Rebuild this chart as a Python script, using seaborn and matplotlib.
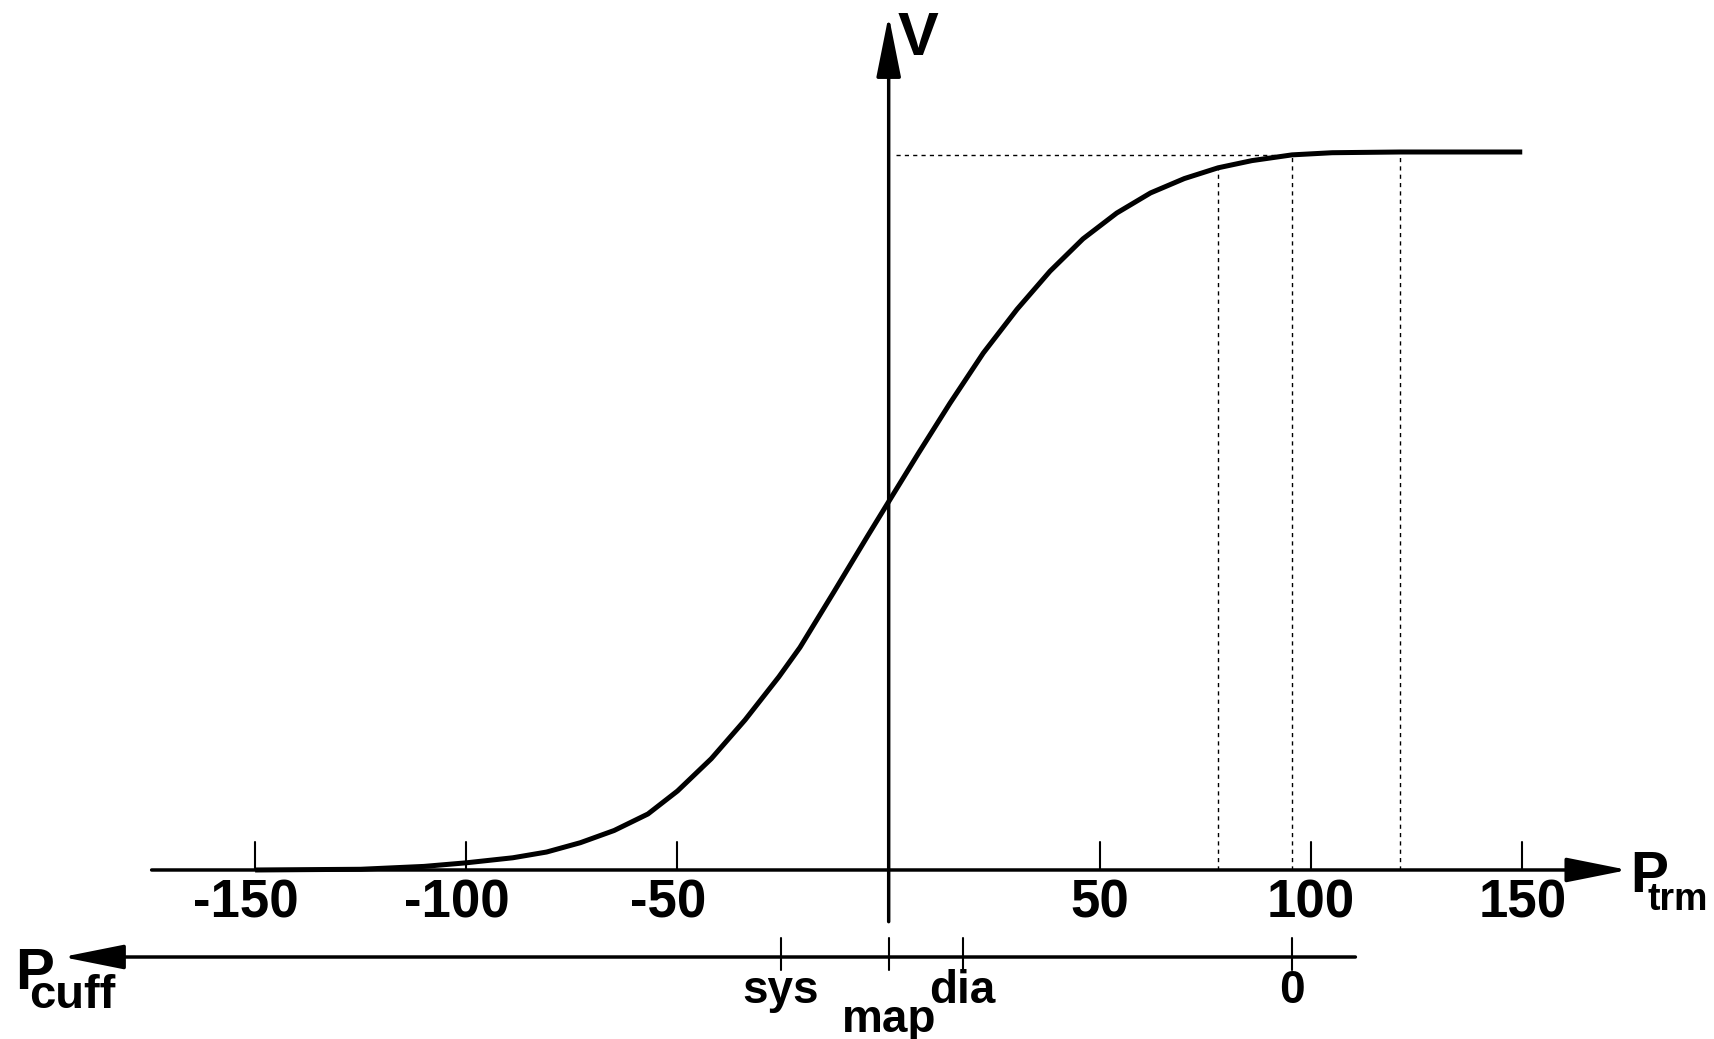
import numpy as np
import pandas as pd
import matplotlib
matplotlib.use("Agg")
import matplotlib.pyplot as plt
import seaborn as sns

# transmural pressure (P_trm) vs normalised volume
p_trm = [-150, -125, -110, -100, -89, -81, -73, -65, -57, -50, -42, -34, -26, -21,
         -13, -5, 0, 7, 14.5, 22.4, 30.4, 38.2, 46, 54, 62, 70, 78, 86, 95.5, 105,
         121, 135, 150]
volume = [0.0, 0.001, 0.005, 0.01, 0.017, 0.025, 0.038, 0.055, 0.078, 0.110, 0.155,
          0.209, 0.269, 0.310, 0.387, 0.465, 0.513, 0.580, 0.650, 0.720, 0.781, 0.834,
          0.879, 0.915, 0.943, 0.963, 0.978, 0.988, 0.996, 0.999, 1.0, 1.0, 1.0]

trm_ticks = [-150, -100, -50, 50, 100, 150]
trm_labels = ["-150", "-100", "-50", "50", "100", "150"]

# cuff pressure marks (P_cuff axis runs the other way, 0 at P_trm = map)
map_pressure = 95.5
cuff_names = ["sys", "map", "dia", "0"]
cuff_values = [121, 95.5, 78, 0]

sns.set_theme(style="white")
plt.rcParams["font.family"] = ["Liberation Sans", "DejaVu Sans"]
plt.rcParams["font.weight"] = "bold"
plt.rcParams["text.color"] = "black"

fig = plt.figure(figsize=(17.14, 10.39), dpi=100)
ax = fig.add_axes([0, 0, 1, 1])
ax.set_xlim(-210.4, 195.4)
ax.set_ylim(-0.2354, 1.2117)
ax.axis("off")

df = pd.DataFrame({"P_trm": p_trm, "V": volume})
sns.lineplot(data=df, x="P_trm", y="V", color="black", linewidth=3.6, ax=ax,
             solid_capstyle="butt", solid_joinstyle="round", zorder=3)

# dashed guides at dia / map / sys transmural pressures
v_map = np.interp(map_pressure, p_trm, volume)
ax.plot([1.7, map_pressure], [v_map, v_map], color="black", lw=1.0,
        dashes=(3, 3), zorder=2)
for p in [cuff_values[2], cuff_values[1], cuff_values[0]]:
    ax.plot([p, p], [0, np.interp(p, p_trm, volume)], color="black", lw=1.0,
            dashes=(3, 3), zorder=2)

arrow = dict(arrowstyle="-|>,head_length=1.9,head_width=0.38", mutation_scale=20,
             lw=2.5, color="black", shrinkA=0, shrinkB=0)
# P_trm axis
ax.annotate("", xy=(175, 0), xytext=(-174.5, 0), arrowprops=arrow)
# V axis
ax.annotate("", xy=(0, 1.19), xytext=(0, -0.072), arrowprops=arrow)
# P_cuff axis
y_cuff = -0.1212
ax.annotate("", xy=(-195.6, y_cuff), xytext=(110.5, y_cuff), arrowprops=arrow)

for t, lab in zip(trm_ticks, trm_labels):
    ax.plot([t, t], [0, 0.039], color="black", lw=1.5)
    dx = -6.5 if lab.startswith("-") else 0
    ax.annotate(lab, xy=(t, -0.0655), xytext=(dx, 0), textcoords="offset points",
                ha="center", va="baseline", fontsize=38, fontweight="bold",
                color="black")

for name, c in zip(cuff_names, cuff_values):
    x = map_pressure - c
    ax.plot([x, x], [y_cuff - 0.018, y_cuff + 0.026], color="black", lw=1.5)
    y = -0.2256 if name == "map" else -0.1852
    ax.text(x, y, name, ha="center", va="baseline", fontsize=33, fontweight="bold")

ax.text(2.2, 1.135, "V", ha="left", va="baseline", fontsize=44, fontweight="bold")
ax.text(175.6, -0.0306, "P", ha="left", va="baseline", fontsize=41, fontweight="bold")
ax.text(179.6, -0.0560, "trm", ha="left", va="baseline", fontsize=27, fontweight="bold")
ax.text(-206.9, -0.1657, "P", ha="left", va="baseline", fontsize=42, fontweight="bold")
ax.text(-203.6, -0.1922, "cuff", ha="left", va="baseline", fontsize=34, fontweight="bold")

fig.savefig("out.png", dpi=100, facecolor="white")
